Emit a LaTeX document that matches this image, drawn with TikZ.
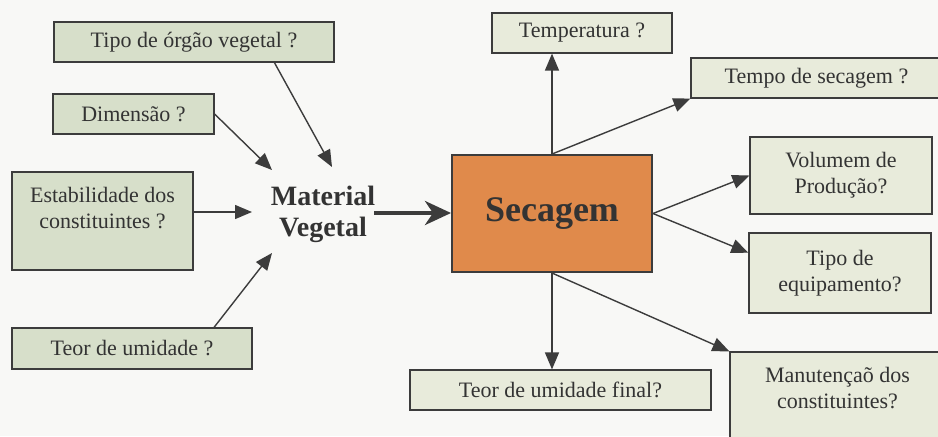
\documentclass[tikz,border=0pt]{standalone}
\usepackage{fontspec}
\setmainfont{Liberation Serif}
\usepackage{tikz}
\usepackage{xcolor}
\usetikzlibrary{arrows.meta, calc}

\definecolor{leftfill}{HTML}{D7DFCA}
\definecolor{rightfill}{HTML}{E8EBDB}
\definecolor{secfill}{HTML}{E08A4B}
\definecolor{linegray}{HTML}{3C3C3C}
\definecolor{textgray}{HTML}{333333}
\definecolor{paper}{HTML}{F8F8F6}

\begin{document}
\begin{tikzpicture}[
  x=0.5pt, y=-0.5pt,
  block/.style={rectangle, draw=linegray, line width=0.6pt, fill=leftfill, inner sep=0pt, align=center, text=textgray, font=\fontsize{11}{13}\selectfont},
  rblock/.style={block, fill=rightfill},
  arrow/.style={draw=linegray, line width=0.7pt, -{Triangle[length=8.5pt,width=7pt]}},
  bigarrow/.style={draw=linegray, line width=2pt, -{Stealth[length=13pt,width=12pt,inset=4pt]}}
]
  \fill [paper] (0,0) rectangle (938,436);
  \useasboundingbox (0,0) rectangle (938,436);

  % left side: questions about the plant material
  \node [block, minimum width=140pt, minimum height=20pt] (organ) at (194,42) {Tipo de órgão vegetal ?};
  \node [block, minimum width=80.5pt, minimum height=20pt] (dim) at (133.5,114) {Dimensão ?};
  \node [block, minimum width=90.5pt, minimum height=49pt] (estab) at (102.5,221) {Estabilidade dos\\constituintes ?\\\rule{0pt}{10pt}};
  \node [block, minimum width=120pt, minimum height=20.5pt] (teor) at (132,348.5) {Teor de umidade ?};

  \node [align=center, inner sep=0pt, text=textgray, font=\fontsize{14}{15.5}\selectfont\bfseries] (material) at (323,214) {Material\\Vegetal};

  \coordinate (inorgan) at (332,167);
  \coordinate (indim) at (272,170);
  \coordinate (inteor) at (272,253);

  % the drying step
  \node [block, fill=secfill, line width=1pt, minimum width=100pt, minimum height=58.5pt, font=\fontsize{18}{20}\selectfont\bfseries] (secagem) at (552,213.5) {Secagem};

  % right side: questions about the drying
  \node [rblock, minimum width=90pt, minimum height=20pt] (temp) at (582,33) {Temperatura ?};
  \node [rblock, minimum width=125.5pt, minimum height=20pt] (tempo) at (816.5,78) {Tempo de secagem ?};
  \node [rblock, minimum width=91pt, minimum height=38.5pt] (vol) at (841,175.5) {Volumem de\\Produção?};
  \node [rblock, minimum width=91pt, minimum height=40pt] (equip) at (840,273) {Tipo de\\equipamento?};
  \node [rblock, minimum width=150.5pt, minimum height=20pt] (final) at (560.5,390) {Teor de umidade final?};
  \node [rblock, minimum width=107.5pt, minimum height=49pt] (manut) at (837.5,401) {Manutençaõ dos\\constituintes?\\\rule{0pt}{10pt}};

  \draw [arrow] ($(organ.south west)!0.786!(organ.south east)$) -- (inorgan);
  \draw [arrow] (dim.east) -- (indim);
  \draw [arrow] (estab.east |- 0,212) -- (252,212);
  \draw [arrow] ($(teor.north west)!0.84!(teor.north east)$) -- (inteor);
  \draw [bigarrow] (374,213) -- (secagem.west |- 0,213);

  \draw [arrow] (secagem.north) -- (temp.south -| secagem.north);
  \draw [arrow] (secagem.north) -- (tempo.south west);
  \draw [arrow] (secagem.east) -- (vol.west);
  \draw [arrow] (secagem.east) -- ($(equip.north west)!0.25!(equip.south west)$);
  \draw [arrow] (secagem.south) -- (final.north -| secagem.south);
  \draw [arrow] (secagem.south) -- (manut.north west);
\end{tikzpicture}
\end{document}
